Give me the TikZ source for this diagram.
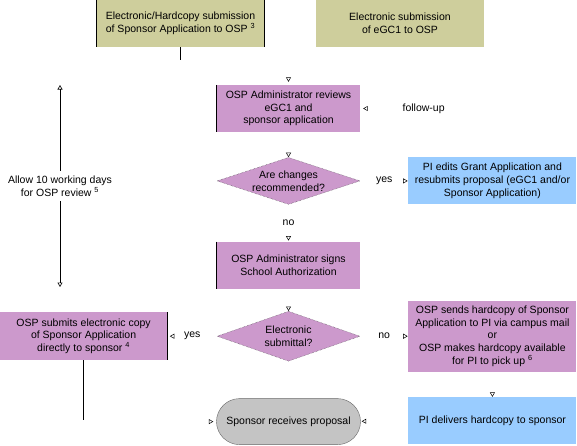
\documentclass[tikz,border=0pt]{standalone}
\usepackage{fontspec}
\setmainfont{Liberation Sans}
\usepackage{xcolor}
\usetikzlibrary{positioning, arrows.meta, shapes.geometric}

\definecolor{olivebox}{RGB}{206,206,156}
\definecolor{purplebox}{RGB}{204,153,204}
\definecolor{bluebox}{RGB}{153,204,255}
\definecolor{greybox}{RGB}{196,196,196}
\newcommand{\fnote}[1]{\textsuperscript{#1}}

\begin{document}
\begin{tikzpicture}[
x=1pt, y=-1pt,
node distance=25pt and 48pt,
every node/.style={align=center, font=\fontsize{10.5}{12.7}\selectfont, inner sep=2pt},
olive/.style={fill=olivebox, minimum width=167pt, minimum height=47pt},
purp/.style={fill=purplebox, minimum width=143pt, minimum height=47pt},
wide/.style={fill=purplebox, minimum width=168pt, minimum height=47pt},
blue/.style={fill=bluebox, minimum width=168pt, minimum height=47pt},
decision/.style={diamond, aspect=3, fill=purplebox, draw=black!75, densely dotted, thin, inner sep=0pt, minimum width=143pt, minimum height=47pt},
terminal/.style={fill=greybox, draw=black!60, thin, rounded corners=23pt, minimum width=144pt, minimum height=46pt},
side/.style={draw=black, line width=0.8pt},
stub/.style={draw=black, line width=0.6pt},
tip/.style={draw=white, -{Triangle[open, length=4.5pt, width=5pt, color=black, line width=0.5pt]}, shorten >=1pt},
label/.style={fill=white, inner sep=1pt},
span/.style={draw=black, line width=0.6pt, {Triangle[open, length=4.5pt, width=5pt]}-{Triangle[open, length=4.5pt, width=5pt]}}
]
\useasboundingbox (0,0) rectangle (577,445);

% ====== Submissions ======
\node[olive] (hardcopy) at (180.5,23.5) {Electronic/Hardcopy submission\\of Sponsor Application to OSP \fnote{3}};
\node[olive, minimum width=168pt] (egc) at (400,23.5) {Electronic submission\\of eGC1 to OSP};
\coordinate (merge) at (288.5,70);

% ====== OSP review ======
\node[purp] (review) at (288.5,108.5) {OSP Administrator reviews\\eGC1 and\\sponsor application};
\node[decision, below=25pt of review] (changes) {Are changes\\recommended?};
\node[blue, right=48pt of changes] (edits) {PI edits Grant Application and\\resubmits proposal (eGC1 and/or\\Sponsor Application)};
\node[purp, below=37pt of changes] (signs) {OSP Administrator signs\\School Authorization};

% ====== Submittal to sponsor ======
\node[decision, minimum height=50pt, below=22pt of signs] (electronic) {Electronic\\submittal?};
\node[wide, minimum height=71pt, right=48pt of electronic] (sends) {OSP sends hardcopy of Sponsor\\Application to PI via campus mail\\or\\OSP makes hardcopy available\\for PI to pick up \fnote{6}};
\node[wide, minimum height=48pt, left=49pt of electronic] (submits) {OSP submits electronic copy\\of Sponsor Application\\directly to sponsor \fnote{4}};
\node[terminal, below=37pt of electronic] (receives) {Sponsor receives proposal};
\node[blue, below=25pt of sends] (delivers) {PI delivers hardcopy to sponsor};

% ====== Box edges ======
\draw[side] (hardcopy.north west) -- (hardcopy.south west) (hardcopy.north east) -- (hardcopy.south east);
\draw[side] (submits.north west) -- (submits.south west) (submits.north east) -- (submits.south east);
\draw[side] (review.north west) -- (review.south west);
\draw[side] (signs.north west) -- (signs.south west);

% ====== Review time ======
\coordinate (revtop) at (60,85);
\coordinate (revbot) at (60,287);
\draw[span] (revtop) -- node[fill=white, inner sep=5pt] {Allow 10 working days\\for OSP review \fnote{5}} (revbot);

% ====== Connections ======
\draw[stub] (hardcopy.south) -- ++(0,13);
\draw[tip, shorten >=3pt] (merge) -- (review.north);
\draw[tip, shorten >=0pt] (review) -- (changes);
\draw[tip, shorten >=0.5pt] (changes) -- node[label] {yes} (edits);
\draw[tip, shorten >=3pt] (edits.north) |- node[label, pos=0.76] {follow-up} (review.east);
\draw[tip] (changes) -- node[label] {no} (signs);
\draw[tip, shorten >=0pt] (signs) -- (electronic);
\draw[tip, shorten >=2pt] (electronic) -- node[label] {yes} (submits);
\draw[tip, shorten >=0.5pt] (electronic) -- node[label] {no} (sends);
\draw[tip, shorten >=0pt] (sends) -- (delivers);
\draw[tip] (delivers) -- (receives);
\draw[tip, shorten >=3pt] (submits.south) |- (receives.west);
\draw[stub] (submits.south) -- ++(0,60);

\end{tikzpicture}
\end{document}
